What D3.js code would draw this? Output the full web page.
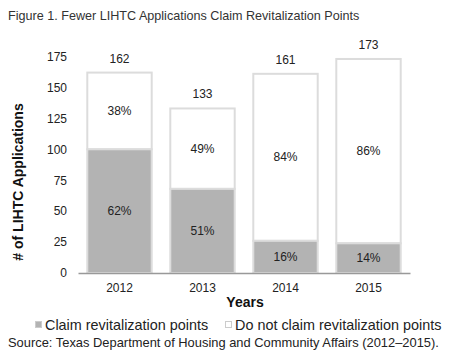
<!DOCTYPE html>
<html><head><meta charset="utf-8">
<script src="https://cdn.jsdelivr.net/npm/d3@7"></script>
<style>
body{margin:0;background:#fff;}
svg{display:block;font-family:"Liberation Sans",Arial,sans-serif;}
</style></head>
<body><svg id="c" width="450" height="356"></svg>
<script>
const years = ["2012","2013","2014","2015"];
const totals = [162,133,161,173];
const claim = [100,68,26,24];
const claimPct = ["62%","51%","16%","14%"];
const notPct = ["38%","49%","84%","86%"];
const yTicks = [0,25,50,75,100,125,150,175];

const svg = d3.select("#c");
const m = {left:78, right:410, top:56.5, bottom:273};
const x = d3.scaleBand().domain(years).range([m.left, m.right]).paddingInner(0.2).paddingOuter(0.1);
const y = d3.scaleLinear().domain([0,175]).range([m.bottom, m.top]);

svg.append("text").attr("x",8).attr("y",20).attr("font-size",12.6).attr("fill","#333")
  .text("Figure 1. Fewer LIHTC Applications Claim Revitalization Points");

// y axis labels
const yAxis = svg.append("g").attr("transform",`translate(${m.left-11},0)`)
  .call(d3.axisLeft(y).tickValues(yTicks).tickSize(0).tickPadding(0));
yAxis.select(".domain").remove();
yAxis.selectAll("text").attr("font-size",12).attr("fill","#222").attr("font-family","Liberation Sans, Arial, sans-serif");

// bars
const data = years.map((yr,i)=>({yr, total:totals[i], claim:claim[i], cp:claimPct[i], np:notPct[i]}));
const g = svg.append("g");
g.selectAll("rect.not").data(data).join("rect").attr("class","not")
  .attr("x",d=>x(d.yr)+1).attr("width",x.bandwidth()-2)
  .attr("y",d=>y(d.total)).attr("height",d=>y(d.claim)-y(d.total))
  .attr("fill","#fff").attr("stroke","#dcdcdc").attr("stroke-width",2);
g.selectAll("rect.cl").data(data).join("rect").attr("class","cl")
  .attr("x",d=>x(d.yr)+1).attr("width",x.bandwidth()-2)
  .attr("y",d=>y(d.claim)).attr("height",d=>y(0)-y(d.claim))
  .attr("fill","#b3b3b3").attr("stroke","#dcdcdc").attr("stroke-width",2);

// labels
g.selectAll("text.tot").data(data).join("text").attr("class","tot")
  .attr("x",d=>x(d.yr)+x.bandwidth()/2).attr("y",d=>y(d.total)-10)
  .attr("text-anchor","middle").attr("font-size",12).attr("fill","#222").text(d=>d.total);
g.selectAll("text.np").data(data).join("text").attr("class","np")
  .attr("x",d=>x(d.yr)+x.bandwidth()/2).attr("y",d=>(y(d.total)+y(d.claim))/2+4)
  .attr("text-anchor","middle").attr("font-size",12).attr("fill","#222").text(d=>d.np);
g.selectAll("text.cp").data(data).join("text").attr("class","cp")
  .attr("x",d=>x(d.yr)+x.bandwidth()/2).attr("y",d=>(y(d.claim)+y(0))/2+4)
  .attr("text-anchor","middle").attr("font-size",12).attr("fill","#222").text(d=>d.cp);

// x axis
const xAxis = svg.append("g").attr("transform",`translate(0,${m.bottom})`)
  .call(d3.axisBottom(x).tickSize(0).tickPadding(10));
xAxis.select(".domain").attr("stroke","#999").attr("stroke-width",1.5);
xAxis.selectAll("text").attr("font-size",12).attr("fill","#222").attr("font-family","Liberation Sans, Arial, sans-serif");

svg.append("text").attr("x",245).attr("y",307).attr("text-anchor","middle")
  .attr("font-size",14).attr("font-weight","bold").attr("fill","#111").text("Years");
svg.append("text").attr("transform","translate(23,182) rotate(-90)").attr("text-anchor","middle")
  .attr("font-size",14).attr("font-weight","bold").attr("fill","#111").text("# of LIHTC Applications");

// legend
const leg = [{label:"Claim revitalization points", fill:"#b3b3b3", x:35},
             {label:"Do not claim revitalization points", fill:"#fff", x:225}];
const lg = svg.append("g").selectAll("g").data(leg).join("g");
lg.append("rect").attr("x",d=>d.x+0.5).attr("y",321.5).attr("width",6).attr("height",6)
  .attr("fill",d=>d.fill).attr("stroke","#ccc").attr("stroke-width",1);
lg.append("text").attr("x",d=>d.x+10).attr("y",330).attr("font-size",14.4).attr("fill","#222").text(d=>d.label);

svg.append("text").attr("x",8).attr("y",347).attr("font-size",12.9).attr("fill","#222")
  .text("Source: Texas Department of Housing and Community Affairs (2012–2015).");
</script></body></html>
